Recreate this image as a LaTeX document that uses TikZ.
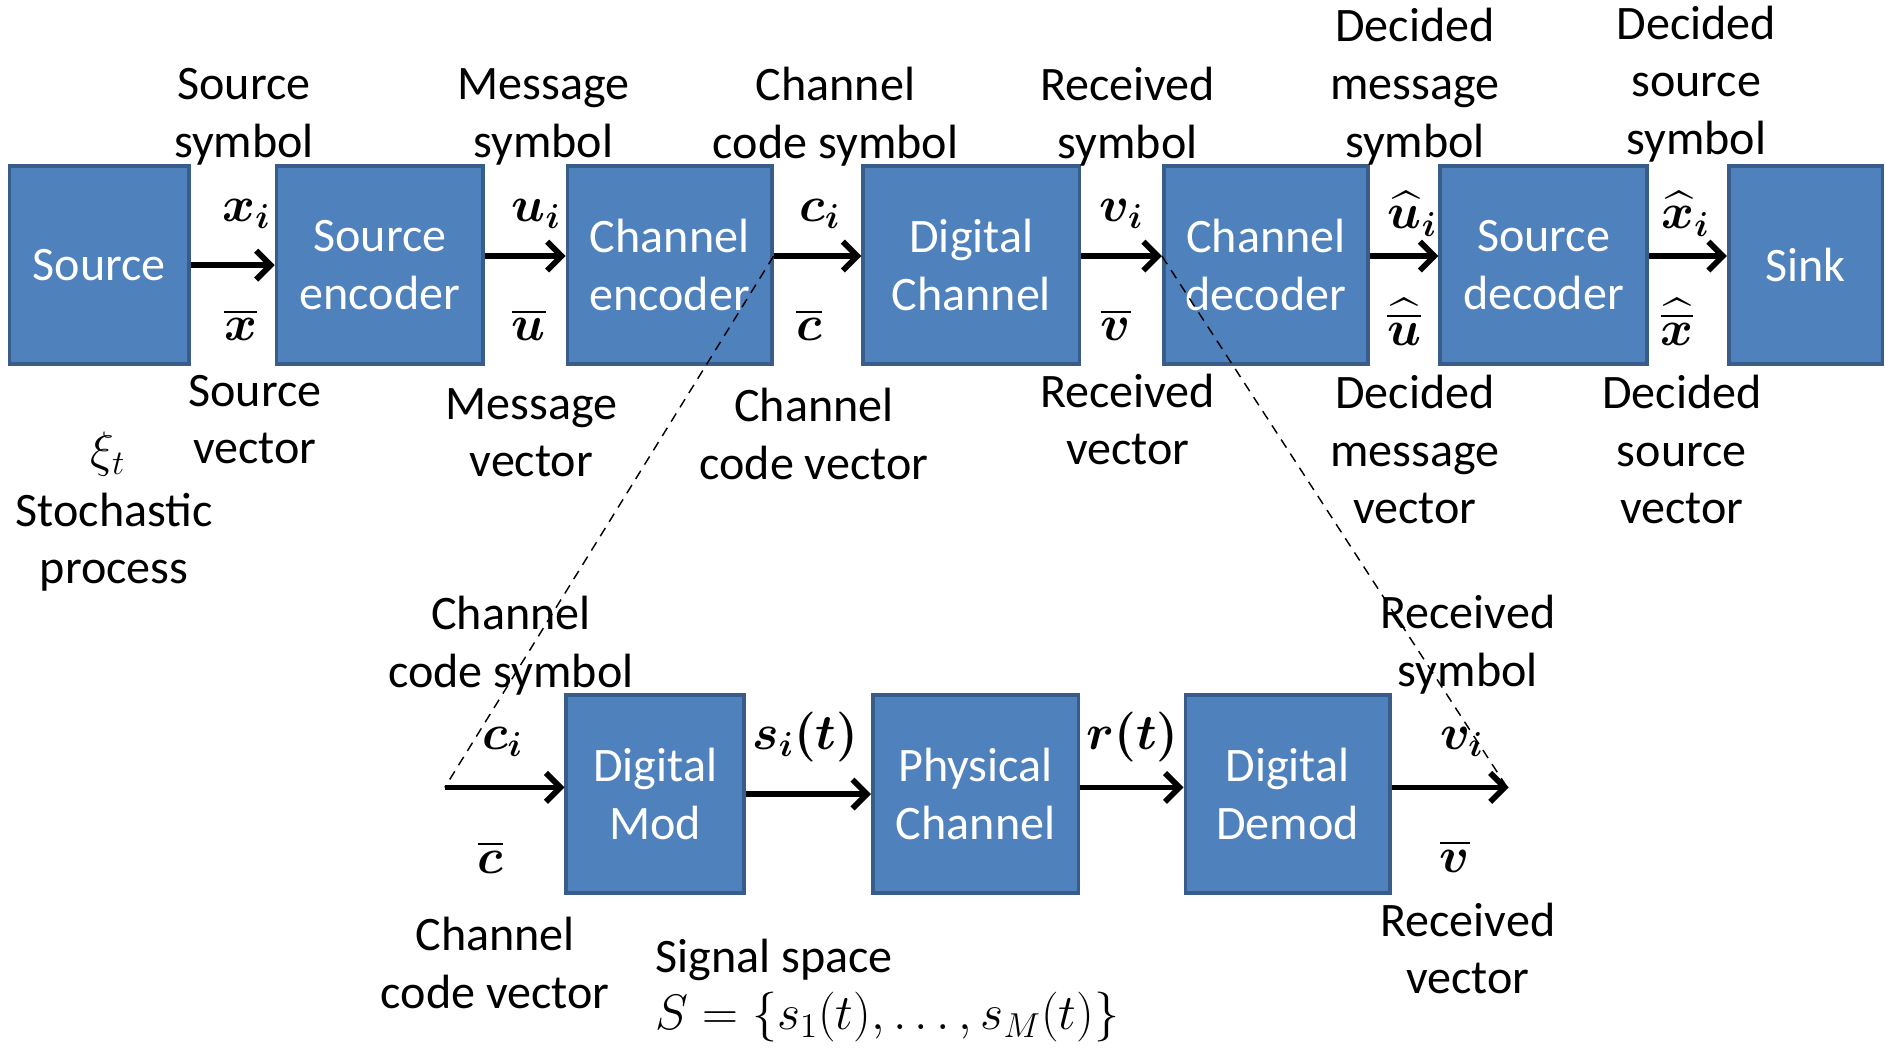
\documentclass[tikz,border=0pt]{standalone}
\usepackage{amsmath}
\usepackage{bm}
\usepackage{fontspec}
\setmainfont{Carlito}
\usetikzlibrary{arrows.meta}
\definecolor{boxfill}{HTML}{4F81BD}
\definecolor{boxedge}{HTML}{385D8A}
\begin{document}
\begin{tikzpicture}[x=0.5pt,y=-0.5pt,
  box/.style={draw=boxedge,fill=boxfill,line width=1.5pt,text=white,font=\fontsize{20}{24}\selectfont,align=center,inner sep=0pt,minimum height=82.5pt},
  lbl/.style={font=\fontsize{20}{24}\selectfont,align=center,inner sep=0pt},
  mth/.style={font=\fontsize{22}{26}\selectfont,inner sep=0pt},
  arr/.style={line width=2.4pt,-{Straight Barb[length=6pt,width=12pt,line width=2.4pt]}},
  dsh/.style={line width=0.6pt,dash pattern=on 4pt off 3pt}]
\useasboundingbox (0,0) rectangle (1568,871);
% top row
\node[box,minimum width=74.5pt] (src) at (82.5,220.5) {Source};
\node[box,minimum width=86pt] (senc) at (316,220.5) {Source\\encoder};
\node[box,minimum width=85pt] (cenc) at (557,220.5) {Channel\\encoder};
\node[box,minimum width=90pt] (dch) at (808,220.5) {Digital\\Channel};
\node[box,minimum width=85pt] (cdec) at (1053,220.5) {Channel\\decoder};
\node[box,minimum width=86pt] (sdec) at (1284,220.5) {Source\\decoder};
\node[box,minimum width=64pt] (sink) at (1502,220.5) {Sink};
% bottom row
\node[box,minimum width=74pt] (dmod) at (545,660.5) {Digital\\Mod};
\node[box,minimum width=85.5pt] (phys) at (811.5,660.5) {Physical\\Channel};
\node[box,minimum width=85pt] (ddem) at (1071,660.5) {Digital\\Demod};
\coordinate (cin) at (370,655);
\coordinate (vout) at (1255,655);
% top arrows
\draw[arr] (src.east) -- (senc.west);
\draw[arr] ([yshift=3.75pt]senc.east) -- ([yshift=3.75pt]cenc.west);
\draw[arr] ([yshift=3.75pt]cenc.east) -- ([yshift=3.75pt]dch.west);
\draw[arr] ([yshift=3.75pt]dch.east) -- ([yshift=3.75pt]cdec.west);
\draw[arr] ([yshift=3.75pt]cdec.east) -- ([yshift=3.75pt]sdec.west);
\draw[arr] ([yshift=3.75pt]sdec.east) -- ([yshift=3.75pt]sink.west);
% bottom arrows
\draw[arr] (cin) -- (cin -| dmod.west);
\draw[arr] (dmod.east) -- (phys.west);
\draw[arr] ([yshift=2.75pt]phys.east) -- ([yshift=2.75pt]ddem.west);
\draw[arr] ([yshift=2.75pt]ddem.east) -- (vout);
% dashed zoom lines
\draw[dsh] ([yshift=3.75pt]cenc.east) -- (cin);
\draw[dsh] ([yshift=3.75pt]cdec.west) -- ([yshift=-1pt]vout);
% top symbol labels
\node[mth] (lxi) at (205,178) {$\boldsymbol{x}_{\boldsymbol{i}}$};
\node[mth] (lxb) at (200,270) {$\overline{\boldsymbol{x}}$};
\node[mth] (lui) at (446,178) {$\boldsymbol{u}_{\boldsymbol{i}}$};
\node[mth] (lub) at (440,270) {$\overline{\boldsymbol{u}}$};
\node[mth] (lci) at (682,178) {$\boldsymbol{c}_{\boldsymbol{i}}$};
\node[mth] (lcb) at (673,270) {$\overline{\boldsymbol{c}}$};
\node[mth] (lvi) at (933,178) {$\boldsymbol{v}_{\boldsymbol{i}}$};
\node[mth] (lvb) at (928,270) {$\overline{\boldsymbol{v}}$};
\node[mth] (lhui) at (1175,178) {$\widehat{\boldsymbol{u}}_{\boldsymbol{i}}$};
\node[mth] (lhub) at (1168,268) {$\widehat{\overline{\boldsymbol{u}}}$};
\node[mth] (lhxi) at (1402,178) {$\widehat{\boldsymbol{x}}_{\boldsymbol{i}}$};
\node[mth] (lhxb) at (1395,268) {$\widehat{\overline{\boldsymbol{x}}}$};
% top text labels
\node[lbl] (t1) at (203,97) {Source\\symbol};
\node[lbl] (t2) at (452,97) {Message\\symbol};
\node[lbl] (t3) at (695,97) {Channel\\code symbol};
\node[lbl] (t4) at (938,97) {Received\\symbol};
\node[lbl] (t5) at (1177,72) {Decided\\message\\symbol};
\node[lbl] (t6) at (1411,70) {Decided\\source\\symbol};
\node[lbl] (b1) at (212,349) {Source\\vector};
\node[lbl] (b2) at (442,360) {Message\\vector};
\node[lbl] (b3) at (677,361) {Channel\\code vector};
\node[lbl] (b4) at (938,349) {Received\\vector};
\node[lbl] (b5) at (1177,374) {Decided\\message\\vector};
\node[lbl] (b6) at (1399,374) {Decided\\source\\vector};
\node[mth] (xi) at (90,378) {$\xi_t$};
\node[lbl] (sp) at (95,451) {Stochastic\\process};
% bottom labels
\node[mth] (bci) at (418,617) {$\boldsymbol{c}_{\boldsymbol{i}}$};
\node[mth] (bcb) at (408,713) {$\overline{\boldsymbol{c}}$};
\node[mth] (bsi) at (670,613) {$\boldsymbol{s}_{\boldsymbol{i}}\boldsymbol{(t)}$};
\node[mth] (brt) at (942,613) {$\boldsymbol{r}\boldsymbol{(t)}$};
\node[mth] (bvi) at (1216,617) {$\boldsymbol{v}_{\boldsymbol{i}}$};
\node[mth] (bvb) at (1210,712) {$\overline{\boldsymbol{v}}$};
\node[lbl] (c1) at (425,537) {Channel\\code symbol};
\node[lbl] (c2) at (412,801) {Channel\\code vector};
\node[lbl] (c3) at (1221,536) {Received\\symbol};
\node[lbl] (c4) at (1221,789) {Received\\vector};
\node[lbl,align=left,anchor=west] (ss) at (545,824) {Signal space\\$S=\{s_1(t),\ldots,s_M(t)\}$};
\end{tikzpicture}
\end{document}
